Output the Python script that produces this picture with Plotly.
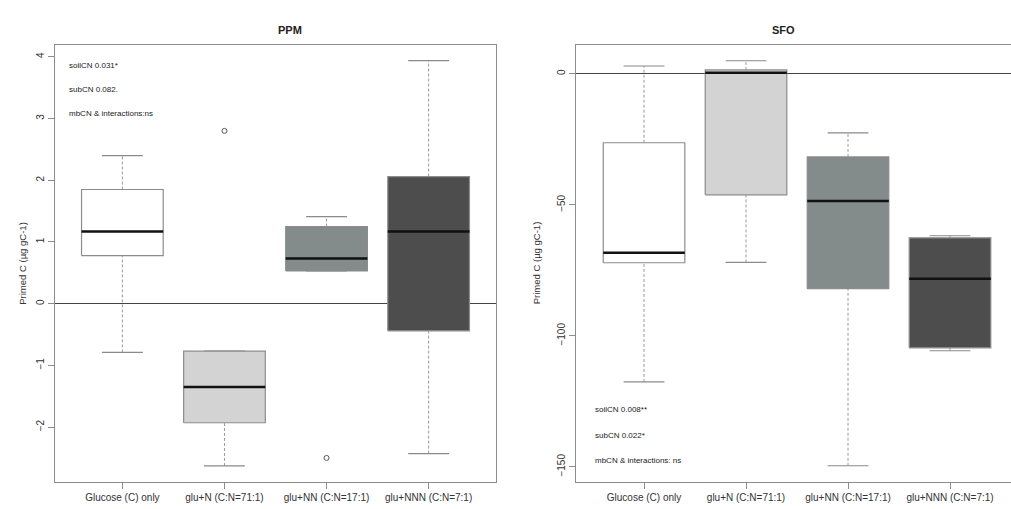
import plotly.graph_objects as go

# Treatment groups (x axis)
categories = ["Glucose (C) only", "glu+N (C:N=71:1)", "glu+NN (C:N=17:1)", "glu+NNN (C:N=7:1)"]
box_fill = ["#ffffff", "#d3d3d3", "#838b8b", "#4d4d4d"]

# PPM: five-number summaries per treatment
ppm_low = [-0.79, -2.63, 0.53, -2.43]
ppm_q1 = [0.78, -1.93, 0.53, -0.44]
ppm_med = [1.17, -1.35, 0.73, 1.17]
ppm_q3 = [1.85, -0.77, 1.25, 2.06]
ppm_high = [2.40, -0.77, 1.41, 3.94]
ppm_out_x = [2, 3]
ppm_out_y = [2.80, -2.50]

# SFO: five-number summaries per treatment
sfo_low = [-117.6, -72.0, -149.6, -105.7]
sfo_q1 = [-72.1, -46.2, -82.0, -104.6]
sfo_med = [-68.3, 0.4, -48.5, -78.2]
sfo_q3 = [-26.3, 1.5, -31.7, -62.6]
sfo_high = [3.0, 5.0, -22.5, -61.8]

ppm_ticks = [-2, -1, 0, 1, 2, 3, 4]
sfo_ticks = [-150, -100, -50, 0]

ppm_notes = ["soilCN 0.031*", "subCN 0.082.", "mbCN & interactions:ns"]
sfo_notes = ["soilCN 0.008**", "subCN 0.022*", "mbCN & interactions: ns"]

FONT = "Liberation Sans, Arial, sans-serif"
HALF = 0.4   # half box width
CAP = 0.2    # half whisker-cap width

fig = go.Figure()


def add_boxes(low, q1, med, q3, high, xa, ya):
    for i in range(len(categories)):
        x = i + 1
        # whiskers (dashed)
        for a, b in ((low[i], q1[i]), (q3[i], high[i])):
            if a != b:
                fig.add_trace(go.Scatter(x=[x, x], y=[a, b], mode="lines",
                                         line=dict(color="#9a9a9a", width=1, dash="3px,2px"),
                                         xaxis=xa, yaxis=ya, hoverinfo="skip"))
        # whisker caps
        for v in (low[i], high[i]):
            fig.add_trace(go.Scatter(x=[x - CAP, x + CAP], y=[v, v], mode="lines",
                                     line=dict(color="#8a8a8a", width=1.2),
                                     xaxis=xa, yaxis=ya, hoverinfo="skip"))
        # box
        fig.add_trace(go.Scatter(x=[x - HALF, x + HALF, x + HALF, x - HALF, x - HALF],
                                 y=[q1[i], q1[i], q3[i], q3[i], q1[i]],
                                 mode="lines", fill="toself", fillcolor=box_fill[i],
                                 line=dict(color="#8c8c8c", width=1.2),
                                 xaxis=xa, yaxis=ya, hoverinfo="skip"))
        # median
        fig.add_trace(go.Scatter(x=[x - HALF, x + HALF], y=[med[i], med[i]], mode="lines",
                                 line=dict(color="#111111", width=2.5),
                                 xaxis=xa, yaxis=ya, hoverinfo="skip"))


add_boxes(ppm_low, ppm_q1, ppm_med, ppm_q3, ppm_high, "x", "y")
add_boxes(sfo_low, sfo_q1, sfo_med, sfo_q3, sfo_high, "x2", "y2")

# PPM outliers
fig.add_trace(go.Scatter(x=ppm_out_x, y=ppm_out_y, mode="markers",
                         marker=dict(symbol="circle-open", size=5, color="#555555",
                                     line=dict(width=1)),
                         xaxis="x", yaxis="y", hoverinfo="skip"))

W, H = 1011, 509
ydom = [(H - 482) / H, (H - 44.5) / H]

axis_common = dict(showgrid=False, showline=True, linecolor="#8c8c8c", linewidth=1,
                   ticks="outside", ticklen=6, tickcolor="#8c8c8c",
                   tickfont=dict(family=FONT, size=10, color="#333333"))

fig.update_layout(
    width=W, height=H, margin=dict(l=0, r=0, t=0, b=0),
    paper_bgcolor="white", plot_bgcolor="white", showlegend=False,
    xaxis=dict(domain=[55 / W, 496 / W], range=[0.34, 4.66], tickvals=[1, 2, 3, 4],
               ticktext=categories, mirror=True, zeroline=False, anchor="y", **axis_common),
    yaxis=dict(domain=ydom, range=[-2.89, 4.20], tickvals=ppm_ticks, tickangle=-90,
               mirror=True, zeroline=True, zerolinecolor="#444444", zerolinewidth=1,
               anchor="x", **axis_common),
    xaxis2=dict(domain=[576 / W, 1.0], range=[0.333, 4.598], tickvals=[1, 2, 3, 4],
                ticktext=categories, mirror=True, zeroline=False, anchor="y2", **axis_common),
    yaxis2=dict(domain=ydom, range=[-155.8, 11.2], tickvals=sfo_ticks, tickangle=-90,
                mirror=False, zeroline=True, zerolinecolor="#444444", zerolinewidth=1,
                anchor="x2", **axis_common),
)

annotations = []
# panel titles
for txt, xp in (("PPM", 275.5 / W), ("SFO", 797 / W)):
    annotations.append(dict(text="<b>" + txt + "</b>", x=xp, y=(H - 22) / H, xref="paper", yref="paper",
                            showarrow=False, font=dict(family=FONT, size=11, color="#222222")))
# y axis titles
for xp in (15 / W, 536 / W):
    annotations.append(dict(text="Primed C (µg gC-1)", x=xp, y=(ydom[0] + ydom[1]) / 2,
                            xref="paper", yref="paper", textangle=-90, showarrow=False,
                            font=dict(family=FONT, size=9.5, color="#333333")))
# significance notes
for txt, yv in zip(ppm_notes, [3.86, 3.47, 3.08]):
    annotations.append(dict(text=txt, x=0.46, y=yv, xref="x", yref="y", xanchor="left",
                            showarrow=False, font=dict(family=FONT, size=8, color="#222222")))
for txt, yv in zip(sfo_notes, [-128.2, -138.2, -147.7]):
    annotations.append(dict(text=txt, x=0.5, y=yv, xref="x2", yref="y2", xanchor="left",
                            showarrow=False, font=dict(family=FONT, size=8, color="#222222")))
fig.update_layout(annotations=annotations)

fig.write_html("out.html")
